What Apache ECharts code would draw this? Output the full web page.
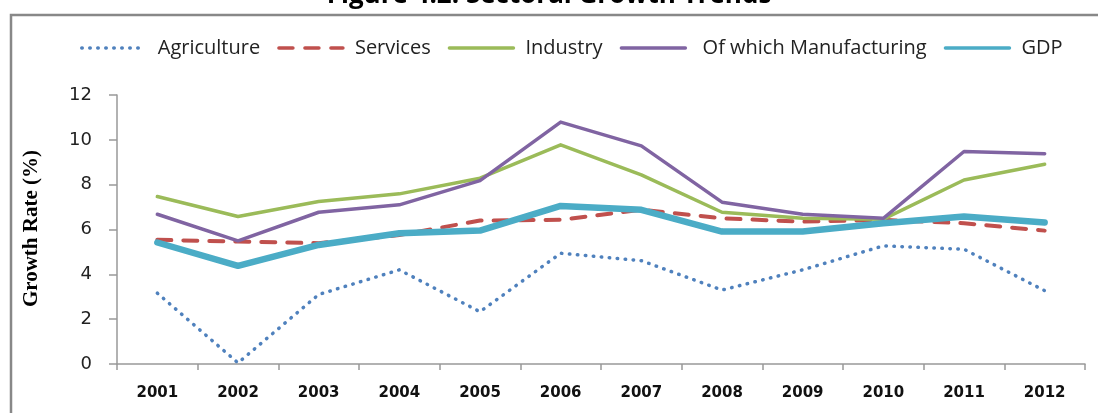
<!DOCTYPE html>
<html>
<head>
<meta charset="utf-8">
<script src="https://cdn.jsdelivr.net/npm/echarts@6/dist/echarts.min.js"></script>
<style>
html,body{margin:0;padding:0;background:#fff;}
#c{width:1098px;height:413px;}
</style>
</head>
<body>
<div id="c"></div>
<script>
const years = ['2001','2002','2003','2004','2005','2006','2007','2008','2009','2010','2011','2012'];
const agriculture   = [3.16, 0.05, 3.1, 4.2, 2.33, 4.94, 4.61, 3.3, 4.2, 5.27, 5.12, 3.27];
const services      = [5.54, 5.46, 5.39, 5.75, 6.4, 6.43, 6.88, 6.5, 6.35, 6.43, 6.28, 5.95];
const industry      = [7.47, 6.58, 7.25, 7.59, 8.29, 9.78, 8.44, 6.77, 6.5, 6.46, 8.21, 8.91];
const manufacturing = [6.68, 5.49, 6.77, 7.1, 8.18, 10.79, 9.73, 7.22, 6.68, 6.5, 9.48, 9.38];
const gdp           = [5.42, 4.38, 5.31, 5.83, 5.95, 7.05, 6.88, 5.91, 5.91, 6.28, 6.58, 6.31];
const yTicks = [0, 2, 4, 6, 8, 10, 12];

const chart = echarts.init(document.getElementById('c'), null, {renderer:'canvas'});
function line(name, data, color, width, type, z) {
  return {
    name, type:'line', data, symbol:'none', showSymbol:false, z:z,
    lineStyle:{color, width, type, cap:'round', join:'round'},
    itemStyle:{color},
    emphasis:{disabled:true}
  };
}
chart.setOption({
  animation:false,
  title:{
    text:'Figure 4.2: Sectoral Growth Trends',
    left:'center', top:-22,
    textStyle:{fontFamily:'Open Sans', fontWeight:'bold', fontSize:26, color:'#000'}
  },
  graphic:[{
    type:'rect', z:-1,
    shape:{x:11, y:15, width:1200, height:500},
    style:{fill:'none', stroke:'#888', lineWidth:2.5}
  },{
    type:'text', left:21, top:150, rotation:Math.PI/2,
    style:{text:'Growth Rate (%)', font:'bold 21px "Liberation Serif"', fill:'#000'}
  }],
  legend:{
    top:33, left:75,
    itemWidth:64, itemHeight:14, itemGap:17,
    itemStyle:{opacity:0},
    lineStyle:{width:3.5},
    textStyle:{fontFamily:'Open Sans', fontSize:20, color:'#222', padding:[0,0,0,7]},
    data:['Agriculture','Services','Industry',' Of which Manufacturing','GDP']
  },
  grid:{left:117, right:13, top:95, bottom:49, containLabel:false},
  xAxis:{
    type:'category', data:years, boundaryGap:true,
    axisLine:{lineStyle:{color:'#999', width:1.5}},
    axisTick:{show:true, length:6, lineStyle:{color:'#999', width:1.5}},
    axisLabel:{margin:22, fontFamily:'DejaVu Sans', fontWeight:'bold', fontSize:15, color:'#111'}
  },
  yAxis:{
    type:'value', min:0, max:12, interval:2,
    axisLine:{show:true, lineStyle:{color:'#999', width:1.5}},
    axisTick:{show:true, length:8, lineStyle:{color:'#999', width:1.5}},
    splitLine:{show:false},
    axisLabel:{margin:25, fontFamily:'DejaVu Sans', fontSize:18, color:'#222',
      formatter:function(v){ return yTicks.indexOf(v) >= 0 ? String(v) : ''; }}
  },
  series:[
    line('Agriculture', agriculture, '#4F81BD', 3.5, [0.5, 7.5], 3),
    line('Services', services, '#C0504D', 4, [14, 12], 2),
    line('Industry', industry, '#9BBB59', 3.5, 'solid', 4),
    line(' Of which Manufacturing', manufacturing, '#8064A2', 3.5, 'solid', 5),
    line('GDP', gdp, '#4BACC6', 6.5, 'solid', 6)
  ]
});
</script>
</body>
</html>
